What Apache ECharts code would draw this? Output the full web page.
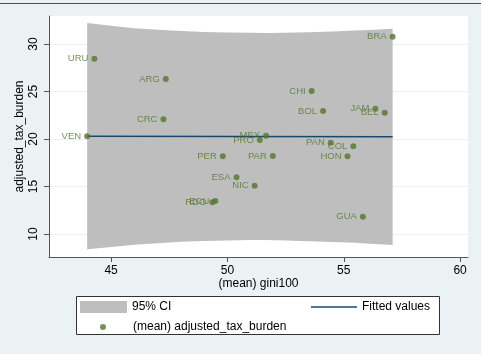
<!DOCTYPE html>
<html>
<head>
<meta charset="utf-8">
<script src="https://cdn.jsdelivr.net/npm/echarts@6/dist/echarts.min.js"></script>
<style>html,body{margin:0;padding:0;background:#eaf2f3;}#c{width:481px;height:354px;}</style>
</head>
<body>
<div id="c"></div>
<script>
var countries = ['URU','ARG','CRC','VEN','PER','BRA','CHI','BOL','JAM','BEL','MEX','PRO','PAN','COL','HON','PAR','ESA','NIC','ECU','RDO','GUA'];
var gini100 = [44.28,47.35,47.25,43.97,49.80,57.10,53.62,54.11,56.36,56.76,51.66,51.39,54.44,55.41,55.16,51.95,50.39,51.17,49.48,49.35,55.82];
var taxBurden = [28.45,26.32,22.07,20.28,18.18,30.77,25.05,22.95,23.19,22.77,20.35,19.89,19.61,19.23,18.18,18.21,15.97,15.08,13.47,13.34,11.82];

var fitX = [43.97, 57.10];
var fitY = [20.28, 20.24];

var bandX = [43.97, 45, 46, 47, 48, 49, 50, 51, 51.7, 52.5, 53.5, 54.5, 55.5, 56.3, 57.10];
var bandUpper = [32.20, 31.92, 31.67, 31.50, 31.36, 31.27, 31.21, 31.18, 31.17, 31.19, 31.25, 31.33, 31.42, 31.51, 31.60];
var bandLower = [8.40, 8.64, 8.87, 9.04, 9.18, 9.27, 9.33, 9.36, 9.36, 9.32, 9.25, 9.17, 9.07, 8.96, 8.84];

var xTicks = [45, 50, 55, 60];
var yTicks = [10, 15, 20, 25, 30];

var green = '#55752f';
var navy = '#1a476f';
var bandColor = '#bebebe';
var font = 'Liberation Sans, Arial, sans-serif';

var chart = echarts.init(document.getElementById('c'), null, {renderer: 'canvas'});

var scatterData = countries.map(function (c, i) { return {name: c, value: [gini100[i], taxBurden[i]]}; });
var fitData = fitX.map(function (x, i) { return [x, fitY[i]]; });

chart.setOption({
  backgroundColor: '#eaf2f3',
  animation: false,
  textStyle: {fontFamily: font},
  grid: {left: 49, right: 13, top: 16, bottom: 97, show: true, backgroundColor: '#ffffff', borderWidth: 0, outerBoundsMode: 'none', containLabel: false},
  xAxis: {
    type: 'value', min: 42.33, max: 60.34,
    name: '(mean) gini100', nameLocation: 'middle', nameGap: 21, nameMoveOverlap: false,
    nameTextStyle: {fontSize: 12, color: '#000', fontFamily: font},
    axisLine: {show: true, lineStyle: {color: '#555', width: 1}},
    axisTick: {show: true, inside: false, length: 5, lineStyle: {color: '#555'}, customValues: xTicks},
    axisLabel: {fontSize: 12, color: '#000', margin: 8, customValues: xTicks, fontFamily: font},
    splitLine: {show: false}
  },
  yAxis: {
    type: 'value', min: 7.58, max: 32.95,
    name: 'adjusted_tax_burden', nameLocation: 'middle', nameGap: 23, nameMoveOverlap: false,
    nameTextStyle: {fontSize: 12, color: '#000', fontFamily: font},
    axisLine: {show: true, lineStyle: {color: '#555', width: 1}},
    axisTick: {show: true, inside: false, length: 5, lineStyle: {color: '#555'}, customValues: yTicks},
    axisLabel: {fontSize: 12, color: '#000', rotate: 90, margin: 9, customValues: yTicks, fontFamily: font},
    splitLine: {show: true, lineStyle: {color: '#eaf2f3', width: 1}}
  },
  legend: [
    {data: ['95% CI'], left: 80, top: 301, itemWidth: 47, itemHeight: 12, icon: 'rect', padding: 0,
     textStyle: {fontSize: 12, color: '#000', fontFamily: font}, selectedMode: false},
    {data: ['(mean) adjusted_tax_burden'], left: 100, top: 321, itemWidth: 6, itemHeight: 6, icon: 'circle', padding: 0,
     textStyle: {fontSize: 12, color: '#000', fontFamily: font, padding: [0, 0, 0, 22]}, selectedMode: false},
    {data: [{name: 'Fitted values', icon: 'path://M0 0 L46 0 L46 1.5 L0 1.5 Z'}], left: 311, top: 301, itemWidth: 46, itemHeight: 12, padding: 0,
     textStyle: {fontSize: 12, color: '#000', fontFamily: font}, selectedMode: false}
  ],
  graphic: [
    {type: 'line', shape: {x1: 0, y1: 3.5, x2: 481, y2: 3.5}, style: {stroke: '#505050', lineWidth: 1.2}, z: 10},
    {type: 'rect', shape: {x: 76.5, y: 296.5, width: 363, height: 38}, style: {fill: '#ffffff', stroke: '#333', lineWidth: 1}, z: 1}
  ],
  series: [
    {
      name: '95% CI', type: 'custom', z: 1,
      itemStyle: {color: bandColor},
      data: [[bandX[0], bandLower[0]]],
      renderItem: function (params, api) {
        var pts = [];
        for (var i = 0; i < bandX.length; i++) pts.push(api.coord([bandX[i], bandUpper[i]]));
        for (var j = bandX.length - 1; j >= 0; j--) pts.push(api.coord([bandX[j], bandLower[j]]));
        return {type: 'polygon', shape: {points: pts}, style: {fill: bandColor, stroke: null}};
      },
      silent: true
    },
    {
      name: 'Fitted values', type: 'line', z: 2, data: fitData, symbol: 'none', showSymbol: false,
      lineStyle: {color: navy, width: 1.5}, itemStyle: {color: navy}
    },
    {
      name: '(mean) adjusted_tax_burden', type: 'scatter', z: 3, data: scatterData,
      symbol: 'circle', symbolSize: 6, itemStyle: {color: green},
      label: {show: true, position: 'left', distance: 3, formatter: '{b}', fontSize: 9.5, color: green, fontFamily: font}
    }
  ]
});
</script>
</body>
</html>
